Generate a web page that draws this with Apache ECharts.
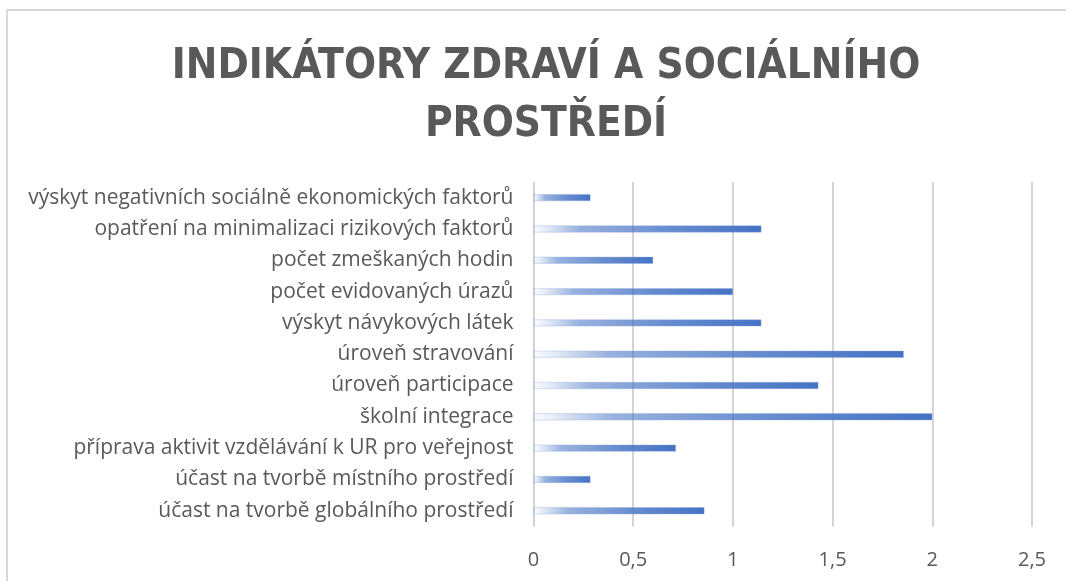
<!DOCTYPE html>
<html>
<head>
<meta charset="utf-8">
<script src="https://cdn.jsdelivr.net/npm/echarts@6/dist/echarts.min.js"></script>
<style>
html,body{margin:0;padding:0;background:#fff;}
#chart{width:1066px;height:581px;}
</style>
</head>
<body>
<div id="chart"></div>
<script>
const titleLines = ['INDIKÁTORY ZDRAVÍ A SOCIÁLNÍHO', 'PROSTŘEDÍ'];
const categories = [
  'výskyt negativních sociálně ekonomických faktorů',
  'opatření na minimalizaci rizikových faktorů',
  'počet zmeškaných hodin',
  'počet evidovaných úrazů',
  'výskyt návykových látek',
  'úroveň stravování',
  'úroveň participace',
  'školní integrace',
  'příprava aktivit vzdělávání k UR pro veřejnost',
  'účast na tvorbě místního prostředí',
  'účast na tvorbě globálního prostředí'
];
const values = [0.2857, 1.1429, 0.6, 1.0, 1.1429, 1.8571, 1.4286, 2.0, 0.7143, 0.2857, 0.8571];
const axisMin = 0, axisMax = 2.5, axisStep = 0.5;

const chart = echarts.init(document.getElementById('chart'), null, {renderer: 'canvas'});
const blue = (a) => 'rgba(68,114,196,' + a + ')';
chart.setOption({
  animation: false,
  backgroundColor: '#ffffff',
  graphic: [{
    type: 'rect',
    shape: {x: 7, y: 10, width: 1080, height: 600},
    style: {fill: 'none', stroke: '#d9d9d9', lineWidth: 2},
    silent: true
  }],
  title: {
    text: titleLines.join('\n'),
    left: 541,
    top: 33,
    textAlign: 'center',
    textStyle: {
      color: '#595959',
      fontSize: 42,
      fontWeight: 'bold',
      fontFamily: "'DejaVu Sans Condensed', 'Open Sans', sans-serif",
      lineHeight: 58
    }
  },
  grid: {left: 533.5, right: 34, top: 182, bottom: 54.6, containLabel: false},
  xAxis: {
    type: 'value',
    min: axisMin, max: axisMax, interval: axisStep,
    axisLine: {show: false},
    axisTick: {show: false},
    splitLine: {lineStyle: {color: '#d4d4d4', width: 2}},
    axisLabel: {
      color: '#595959', fontSize: 20, margin: 24,
      fontFamily: "'Open Sans', sans-serif",
      formatter: v => String(v).replace('.', ',')
    }
  },
  yAxis: {
    type: 'category',
    data: categories,
    inverse: true,
    axisLine: {show: false},
    axisTick: {show: false},
    axisLabel: {color: '#595959', fontSize: 21, margin: 20, fontFamily: "'Open Sans', sans-serif"}
  },
  series: [{
    type: 'bar',
    data: values,
    barWidth: 7,
    itemStyle: {
      color: new echarts.graphic.LinearGradient(0, 0, 1, 0, [
        {offset: 0, color: blue(0.02)},
        {offset: 0.06, color: blue(0.15)},
        {offset: 0.2, color: blue(0.55)},
        {offset: 0.6, color: blue(0.82)},
        {offset: 1, color: blue(1)}
      ]),
      borderColor: 'rgba(143,170,220,0.6)',
      borderWidth: 0.6
    }
  }]
});
</script>
</body>
</html>
